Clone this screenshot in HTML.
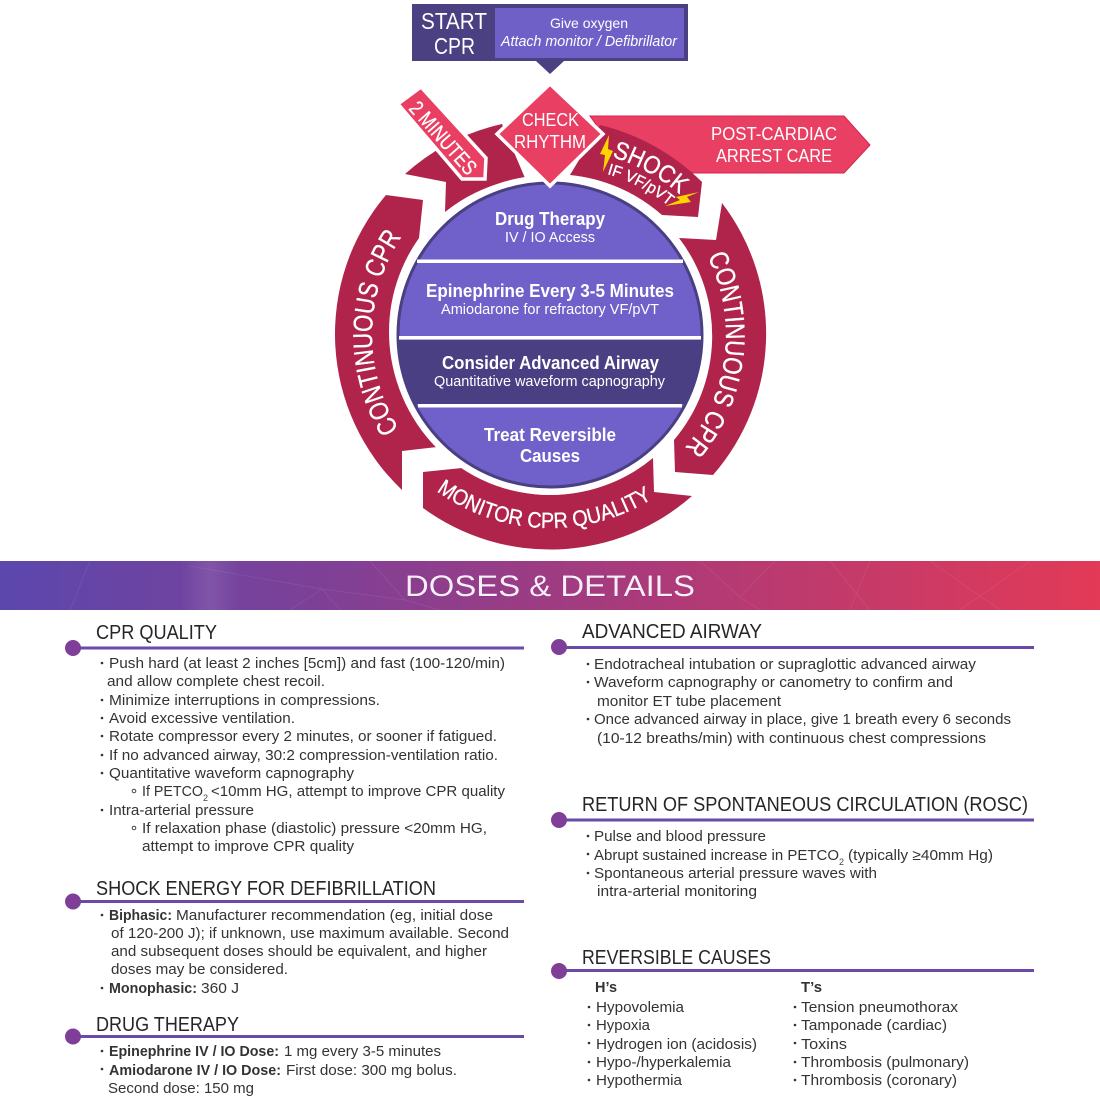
<!DOCTYPE html>
<html lang="en"><head><meta charset="utf-8"><title>Cardiac Arrest Algorithm</title>
<style>
html,body{margin:0;padding:0;background:#fff}
svg{display:block}
text{font-family:"Liberation Sans",sans-serif}
.b text,text.b{font-size:15px;fill:#333}
.h text{font-size:20px;fill:#262626}
.w{fill:#fff;text-anchor:start}
.s{font-size:9px;fill:#444}
</style></head><body>
<svg width="1100" height="1099" viewBox="0 0 1100 1099" xmlns="http://www.w3.org/2000/svg">
<defs>
<linearGradient id="g" x1="0" x2="1" y1="0" y2="0"><stop offset="0" stop-color="#5b47ad"/><stop offset=".3" stop-color="#7f4096"/><stop offset=".6" stop-color="#ad3a78"/><stop offset="1" stop-color="#e23a57"/></linearGradient>
<linearGradient id="st" x1="0" x2="1" y1="0" y2="0"><stop offset="0" stop-color="#fff" stop-opacity="0"/><stop offset=".5" stop-color="#fff" stop-opacity=".1"/><stop offset="1" stop-color="#fff" stop-opacity="0"/></linearGradient>
<clipPath id="cc"><circle cx="550" cy="335" r="152"/></clipPath>
<path id="pl" d="M399 429A178 178 0 0 1 401.600 236.700"/>
<path id="pr" d="M707.500 256.500A176 176 0 0 1 684.800 448"/>
<path id="pb" d="M436.600 491A193 193 0 0 0 652 499"/>
<path id="ps" d="M612 157A188 188 0 0 1 678 193"/>
<path id="pi" d="M607 174A170 170 0 0 1 670 207"/>
</defs>

<!-- Start box -->
<rect x="412" y="4" width="276" height="57" fill="#4a4082"/>
<rect x="495" y="8" width="189" height="50" fill="#6f60c8"/>
<polygon points="536,61 564,61 550,74" fill="#4a4082"/>
<text class="w" x="421" y="29" font-size="23" textLength="66" lengthAdjust="spacingAndGlyphs">START</text>
<text class="w" x="434" y="54" font-size="23" textLength="41" lengthAdjust="spacingAndGlyphs">CPR</text>
<text class="w" x="550" y="28" font-size="14" textLength="78" lengthAdjust="spacingAndGlyphs">Give oxygen</text>
<text class="w" x="501" y="46" font-size="14.5" font-style="italic" textLength="176" lengthAdjust="spacingAndGlyphs">Attach monitor / Defibrillator</text>

<!-- Post cardiac arrow -->
<polygon points="590,116 844,116 870,145 844,173 693,173 600,130" fill="#e93f62" stroke="#d9234d"/>
<text class="w" x="711" y="140" font-size="18" textLength="126" lengthAdjust="spacingAndGlyphs">POST-CARDIAC</text>
<text class="w" x="716" y="162" font-size="18" textLength="116" lengthAdjust="spacingAndGlyphs">ARREST CARE</text>

<!-- Ring segments -->
<g fill="#b0234a">
<path d="M386 195L423 200L419 238A162 162 0 0 0 437 447L402 451L402 490A215 215 0 0 1 386 195Z"/>
<path d="M722 203L716 240L679 238A161 161 0 0 1 674 440L675 472L713 475A215 215 0 0 0 722 203Z"/>
<path d="M423 472L462 468A160 160 0 0 0 653 458L654 492L692 496A215 215 0 0 1 423 508Z"/>
<path d="M405 174A216 216 0 0 1 502 124L525 178A162 162 0 0 0 445 212L446 182Z"/>
<path d="M600 125A216 216 0 0 1 702 182L698 217L662 215A164 164 0 0 0 570 175Z"/>
</g>

<!-- Ring text -->
<g stroke="#fff" stroke-width=".35">
<text fill="#fff" font-size="27"><textPath href="#pl" textLength="203" lengthAdjust="spacingAndGlyphs">CONTINUOUS CPR</textPath></text>
<text fill="#fff" font-size="27"><textPath href="#pr" textLength="204" lengthAdjust="spacingAndGlyphs">CONTINUOUS CPR</textPath></text>
<text fill="#fff" font-size="22"><textPath href="#pb" textLength="229" lengthAdjust="spacingAndGlyphs">MONITOR CPR QUALITY</textPath></text>
<text fill="#fff" font-size="25"><textPath href="#ps" textLength="78" lengthAdjust="spacingAndGlyphs">SHOCK</textPath></text>
<text fill="#fff" font-size="16"><textPath href="#pi" textLength="70" lengthAdjust="spacingAndGlyphs">IF VF/pVT</textPath></text>
</g>
<polygon points="609,135 600,154 605,155 603,172 613,151 608,149" fill="#ffd400"/>
<polygon points="699,192 676,197 680,200 665,206 691,202 687,197" fill="#ffd400"/>

<!-- 2 minutes -->
<polygon points="398,104 421,87 486,158 485,179 462,179" fill="#e93f62" stroke="#fff" stroke-width="3.500" stroke-linejoin="miter"/>
<text class="w" transform="translate(408,109) rotate(48.500)" font-size="21" stroke="#fff" stroke-width=".3" textLength="90" lengthAdjust="spacingAndGlyphs">2 MINUTES</text>

<!-- Central circle -->
<circle cx="550" cy="335" r="160" fill="#fff"/>
<circle cx="550" cy="335" r="152" fill="#6f61c9"/>
<rect x="390" y="340" width="320" height="64" fill="#4a3f82" clip-path="url(#cc)"/>
<circle cx="550" cy="335" r="152" fill="none" stroke="#4a3f82" stroke-width="3"/>
<rect x="417" y="259.500" width="266" height="3.500" fill="#fff"/>
<rect x="399" y="336" width="302" height="3.500" fill="#fff"/>
<rect x="418" y="404" width="264" height="3.500" fill="#fff"/>

<!-- Diamond -->
<polygon points="550,84 603,134 550,186 497,134" fill="#e93f62" stroke="#fff" stroke-width="3.500"/>
<text class="w" x="522" y="126" font-size="18" textLength="57" lengthAdjust="spacingAndGlyphs">CHECK</text>
<text class="w" x="514" y="148" font-size="18" textLength="72" lengthAdjust="spacingAndGlyphs">RHYTHM</text>

<!-- Circle text -->
<g font-weight="bold" font-size="18">
<text class="w" x="495" y="225" font-weight="bold" textLength="110" lengthAdjust="spacingAndGlyphs">Drug Therapy</text>
<text class="w" x="426" y="297" font-weight="bold" textLength="248" lengthAdjust="spacingAndGlyphs">Epinephrine Every 3-5 Minutes</text>
<text class="w" x="442" y="369" font-weight="bold" textLength="217" lengthAdjust="spacingAndGlyphs">Consider Advanced Airway</text>
<text class="w" x="484" y="441" font-weight="bold" textLength="132" lengthAdjust="spacingAndGlyphs">Treat Reversible</text>
<text class="w" x="520" y="462" font-weight="bold" textLength="60" lengthAdjust="spacingAndGlyphs">Causes</text>
</g>
<g font-size="14.500">
<text class="w" x="505" y="242" textLength="90" lengthAdjust="spacingAndGlyphs">IV / IO Access</text>
<text class="w" x="441" y="314" textLength="218" lengthAdjust="spacingAndGlyphs">Amiodarone for refractory VF/pVT</text>
<text class="w" x="434" y="386" textLength="231" lengthAdjust="spacingAndGlyphs">Quantitative waveform capnography</text>
</g>

<!-- Banner -->
<rect x="0" y="561" width="1100" height="49" fill="url(#g)"/>
<g stroke="#fff" stroke-opacity=".07" fill="none">
<path d="M190 566L322 589L405 600M322 589L290 610M322 589L340 610M405 600L370 561M405 600L440 610M90 561L70 610"/>
<path d="M740 597L775 561M740 597L700 561M740 597L760 610M830 561L870 610M870 561L850 610M930 561L1000 610M1030 561L960 610"/>
</g>
<rect x="180" y="561" width="60" height="49" fill="url(#st)"/>
<text x="405" y="596" font-size="30" fill="#fff" fill-opacity=".92" stroke="#7d1a86" stroke-width=".4" paint-order="stroke" textLength="290" lengthAdjust="spacingAndGlyphs">DOSES &amp; DETAILS</text>

<!-- Rules -->
<g fill="#7f3f98">
<rect x="73" y="646.500" width="451" height="3" fill="#6a4aa8"/><circle cx="73" cy="648" r="8"/>
<rect x="73" y="900" width="451" height="3" fill="#6a4aa8"/><circle cx="73" cy="901.500" r="8"/>
<rect x="73" y="1035" width="451" height="3" fill="#6a4aa8"/><circle cx="73" cy="1036.500" r="8"/>
<rect x="559" y="646" width="475" height="3" fill="#6a4aa8"/><circle cx="559" cy="647" r="8"/>
<rect x="559" y="818.500" width="475" height="3" fill="#6a4aa8"/><circle cx="559" cy="820" r="8"/>
<rect x="559" y="969" width="475" height="3" fill="#6a4aa8"/><circle cx="559" cy="971" r="8"/>
</g>

<!-- Headings -->
<g class="h">
<text x="96" y="639" textLength="121" lengthAdjust="spacingAndGlyphs">CPR QUALITY</text>
<text x="96" y="895" textLength="340" lengthAdjust="spacingAndGlyphs">SHOCK ENERGY FOR DEFIBRILLATION</text>
<text x="96" y="1031" textLength="143" lengthAdjust="spacingAndGlyphs">DRUG THERAPY</text>
<text x="582" y="638" textLength="180" lengthAdjust="spacingAndGlyphs">ADVANCED AIRWAY</text>
<text x="582" y="811" textLength="446" lengthAdjust="spacingAndGlyphs">RETURN OF SPONTANEOUS CIRCULATION (ROSC)</text>
<text x="582" y="964" textLength="189" lengthAdjust="spacingAndGlyphs">REVERSIBLE CAUSES</text>
</g>

<!-- Body left -->
<g class="b">
<text x="109" y="668" textLength="396" lengthAdjust="spacingAndGlyphs">Push hard (at least 2 inches [5cm]) and fast (100-120/min)</text>
<text x="107" y="686" textLength="218" lengthAdjust="spacingAndGlyphs">and allow complete chest recoil.</text>
<text x="109" y="705" textLength="271" lengthAdjust="spacingAndGlyphs">Minimize interruptions in compressions.</text>
<text x="109" y="723" textLength="186" lengthAdjust="spacingAndGlyphs">Avoid excessive ventilation.</text>
<text x="109" y="741" textLength="388" lengthAdjust="spacingAndGlyphs">Rotate compressor every 2 minutes, or sooner if fatigued.</text>
<text x="109" y="760" textLength="389" lengthAdjust="spacingAndGlyphs">If no advanced airway, 30:2 compression-ventilation ratio.</text>
<text x="109" y="778" textLength="245" lengthAdjust="spacingAndGlyphs">Quantitative waveform capnography</text>
<text x="142" y="796" textLength="61" lengthAdjust="spacingAndGlyphs">If PETCO</text>
<text x="211" y="796" textLength="294" lengthAdjust="spacingAndGlyphs">&lt;10mm HG, attempt to improve CPR quality</text>
<text x="109" y="815" textLength="145" lengthAdjust="spacingAndGlyphs">Intra-arterial pressure</text>
<text x="142" y="833" textLength="345" lengthAdjust="spacingAndGlyphs">If relaxation phase (diastolic) pressure &lt;20mm HG,</text>
<text x="142" y="851" textLength="212" lengthAdjust="spacingAndGlyphs">attempt to improve CPR quality</text>

<text x="109" y="920" font-weight="bold" textLength="63" lengthAdjust="spacingAndGlyphs">Biphasic:</text>
<text x="176" y="920" textLength="317" lengthAdjust="spacingAndGlyphs">Manufacturer recommendation (eg, initial dose</text>
<text x="111" y="938" textLength="398" lengthAdjust="spacingAndGlyphs">of 120-200 J); if unknown, use maximum available. Second</text>
<text x="111" y="956" textLength="376" lengthAdjust="spacingAndGlyphs">and subsequent doses should be equivalent, and higher</text>
<text x="111" y="974" textLength="177" lengthAdjust="spacingAndGlyphs">doses may be considered.</text>
<text x="109" y="993" font-weight="bold" textLength="88" lengthAdjust="spacingAndGlyphs">Monophasic:</text>
<text x="201" y="993" textLength="38" lengthAdjust="spacingAndGlyphs">360 J</text>

<text x="109" y="1056" font-weight="bold" textLength="170" lengthAdjust="spacingAndGlyphs">Epinephrine IV / IO Dose:</text>
<text x="284" y="1056" textLength="157" lengthAdjust="spacingAndGlyphs">1 mg every 3-5 minutes</text>
<text x="109" y="1075" font-weight="bold" textLength="172" lengthAdjust="spacingAndGlyphs">Amiodarone IV / IO Dose:</text>
<text x="286" y="1075" textLength="171" lengthAdjust="spacingAndGlyphs">First dose: 300 mg bolus.</text>
<text x="108" y="1093" textLength="146" lengthAdjust="spacingAndGlyphs">Second dose: 150 mg</text>

<!-- Body right -->
<text x="594" y="669" textLength="382" lengthAdjust="spacingAndGlyphs">Endotracheal intubation or supraglottic advanced airway</text>
<text x="594" y="687" textLength="359" lengthAdjust="spacingAndGlyphs">Waveform capnography or canometry to confirm and</text>
<text x="597" y="706" textLength="184" lengthAdjust="spacingAndGlyphs">monitor ET tube placement</text>
<text x="594" y="724" textLength="417" lengthAdjust="spacingAndGlyphs">Once advanced airway in place, give 1 breath every 6 seconds</text>
<text x="597" y="743" textLength="389" lengthAdjust="spacingAndGlyphs">(10-12 breaths/min) with continuous chest compressions</text>

<text x="594" y="841" textLength="172" lengthAdjust="spacingAndGlyphs">Pulse and blood pressure</text>
<text x="594" y="860" textLength="245" lengthAdjust="spacingAndGlyphs">Abrupt sustained increase in PETCO</text>
<text x="848" y="860" textLength="145" lengthAdjust="spacingAndGlyphs">(typically ≥40mm Hg)</text>
<text x="594" y="878" textLength="283" lengthAdjust="spacingAndGlyphs">Spontaneous arterial pressure waves with</text>
<text x="597" y="896" textLength="160" lengthAdjust="spacingAndGlyphs">intra-arterial monitoring</text>

<text x="595" y="992" font-weight="bold" textLength="22" lengthAdjust="spacingAndGlyphs">H’s</text>
<text x="801" y="992" font-weight="bold" textLength="21" lengthAdjust="spacingAndGlyphs">T’s</text>
<text x="596" y="1012" textLength="88" lengthAdjust="spacingAndGlyphs">Hypovolemia</text>
<text x="596" y="1030" textLength="54" lengthAdjust="spacingAndGlyphs">Hypoxia</text>
<text x="596" y="1049" textLength="161" lengthAdjust="spacingAndGlyphs">Hydrogen ion (acidosis)</text>
<text x="596" y="1067" textLength="135" lengthAdjust="spacingAndGlyphs">Hypo-/hyperkalemia</text>
<text x="596" y="1085" textLength="86" lengthAdjust="spacingAndGlyphs">Hypothermia</text>
<text x="801" y="1012" textLength="157" lengthAdjust="spacingAndGlyphs">Tension pneumothorax</text>
<text x="801" y="1030" textLength="146" lengthAdjust="spacingAndGlyphs">Tamponade (cardiac)</text>
<text x="801" y="1049" textLength="46" lengthAdjust="spacingAndGlyphs">Toxins</text>
<text x="801" y="1067" textLength="168" lengthAdjust="spacingAndGlyphs">Thrombosis (pulmonary)</text>
<text x="801" y="1085" textLength="156" lengthAdjust="spacingAndGlyphs">Thrombosis (coronary)</text>
</g>
<text class="s" x="203" y="801">2</text>
<text class="s" x="839" y="865">2</text>

<!-- Bullets -->
<g fill="#333">
<circle cx="102" cy="663" r="1.300"/><circle cx="102" cy="700" r="1.300"/><circle cx="102" cy="718" r="1.300"/><circle cx="102" cy="736" r="1.300"/><circle cx="102" cy="755" r="1.300"/><circle cx="102" cy="773" r="1.300"/><circle cx="102" cy="810" r="1.300"/>
<circle cx="102" cy="915" r="1.300"/><circle cx="102" cy="988" r="1.300"/><circle cx="102" cy="1051" r="1.300"/><circle cx="102" cy="1069" r="1.300"/>
<circle cx="588" cy="664" r="1.300"/><circle cx="588" cy="682" r="1.300"/><circle cx="588" cy="719" r="1.300"/>
<circle cx="588" cy="836" r="1.300"/><circle cx="588" cy="854" r="1.300"/><circle cx="588" cy="873" r="1.300"/>
<circle cx="589" cy="1007" r="1.300"/><circle cx="589" cy="1025" r="1.300"/><circle cx="589" cy="1043" r="1.300"/><circle cx="589" cy="1062" r="1.300"/><circle cx="589" cy="1080" r="1.300"/>
<circle cx="795" cy="1007" r="1.300"/><circle cx="795" cy="1025" r="1.300"/><circle cx="795" cy="1043" r="1.300"/><circle cx="795" cy="1062" r="1.300"/><circle cx="795" cy="1080" r="1.300"/>
</g>
<g fill="none" stroke="#444"><circle cx="134" cy="791" r="1.800"/><circle cx="134" cy="828" r="1.800"/></g>
</svg>
</body></html>
